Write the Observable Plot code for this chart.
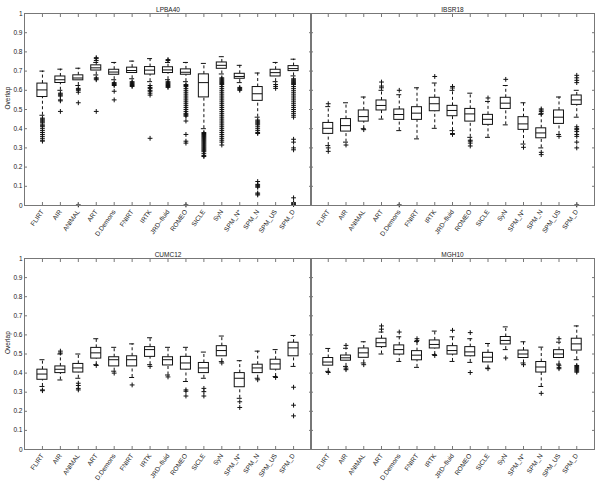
<!DOCTYPE html>
<html><head><meta charset="utf-8">
<script src="https://cdn.jsdelivr.net/npm/d3@7"></script>
<script src="https://cdn.jsdelivr.net/npm/@observablehq/plot@0.6"></script>
<style>
body{margin:0;background:#fff;}
#wrap{position:relative;width:600px;height:487px;overflow:hidden;background:#fff;}
.panel{position:absolute;}
</style></head><body><div id="wrap"></div>
<script>
const methods = ["FLIRT","AIR","ANIMAL","ART","D.Demons","FNIRT","IRTK","JRD\u2013fluid","ROMEO","SICLE","SyN","SPM_N*","SPM_N","SPM_US","SPM_D"];
const yTicks = [0,0.1,0.2,0.3,0.4,0.5,0.6,0.7,0.8,0.9,1];

// LPBA40
const lpbaHi  = [0.70,0.71,0.715,0.745,0.745,0.752,0.765,0.745,0.745,0.74,0.775,0.73,0.69,0.745,0.762];
const lpbaQ3  = [0.635,0.672,0.678,0.73,0.707,0.718,0.721,0.72,0.709,0.683,0.745,0.686,0.617,0.707,0.726];
const lpbaMed = [0.602,0.655,0.664,0.717,0.695,0.703,0.705,0.706,0.694,0.64,0.73,0.672,0.582,0.692,0.713];
const lpbaQ1  = [0.565,0.638,0.652,0.703,0.681,0.69,0.682,0.69,0.681,0.563,0.712,0.66,0.545,0.672,0.70];
const lpbaLo  = [0.47,0.60,0.625,0.68,0.655,0.66,0.645,0.655,0.645,0.40,0.685,0.64,0.46,0.645,0.675];
const lpbaOut = [
  [0.455,0.45,0.445,0.44,0.435,0.43,0.42,0.415,0.41,0.40,0.39,0.38,0.37,0.36,0.35,0.34,0.335],
  [0.585,0.58,0.575,0.57,0.55,0.545,0.49],
  [0.61,0.605,0.60,0.59,0.535,0.003],
  [0.77,0.765,0.755,0.665,0.66,0.655,0.49],
  [0.64,0.635,0.63,0.625,0.595,0.55],
  [0.645,0.64,0.635,0.63,0.625,0.62],
  [0.625,0.615,0.61,0.60,0.595,0.585,0.575,0.35],
  [0.76,0.755,0.645,0.64,0.635,0.63,0.625,0.62,0.615],
  [0.63,0.625,0.62,0.61,0.60,0.59,0.58,0.57,0.56,0.55,0.54,0.53,0.52,0.51,0.50,0.49,0.48,0.475,0.47,0.465,0.44,0.37,0.335,0.325,0.003],
  [0.38,0.375,0.37,0.365,0.36,0.355,0.35,0.345,0.34,0.335,0.33,0.325,0.32,0.315,0.31,0.305,0.30,0.295,0.29,0.285,0.28,0.27,0.26,0.255],
  [0.665,0.66,0.655,0.65,0.645,0.64,0.635,0.63,0.62,0.61,0.60,0.59,0.58,0.57,0.56,0.55,0.54,0.53,0.52,0.51,0.50,0.49,0.48,0.47,0.46,0.45,0.44,0.43,0.42,0.41,0.40,0.39,0.38,0.37,0.36,0.35,0.34,0.33,0.315],
  [0.615,0.61,0.605,0.60],
  [0.445,0.44,0.435,0.43,0.425,0.42,0.41,0.40,0.39,0.38,0.375,0.125,0.11,0.105,0.10,0.095,0.065,0.06,0.055],
  [0.63,0.62,0.61],
  [0.66,0.655,0.65,0.645,0.64,0.635,0.63,0.62,0.61,0.60,0.59,0.58,0.57,0.56,0.55,0.54,0.53,0.52,0.51,0.50,0.49,0.48,0.47,0.46,0.345,0.33,0.30,0.29,0.04,0.015,0.01,0.005]
];

// IBSR18
const ibsrHi  = [0.515,0.535,0.565,0.60,0.577,0.613,0.638,0.60,0.585,0.542,0.625,0.535,0.475,0.565,0.60];
const ibsrQ3  = [0.43,0.45,0.495,0.547,0.50,0.512,0.561,0.519,0.503,0.472,0.561,0.46,0.402,0.495,0.573];
const ibsrMed = [0.402,0.416,0.463,0.521,0.474,0.481,0.53,0.495,0.477,0.449,0.533,0.425,0.378,0.46,0.55];
const ibsrQ1  = [0.373,0.385,0.437,0.495,0.446,0.446,0.491,0.465,0.437,0.42,0.503,0.394,0.35,0.425,0.524];
const ibsrLo  = [0.312,0.33,0.40,0.45,0.39,0.347,0.402,0.39,0.355,0.355,0.42,0.32,0.30,0.37,0.46];
const ibsrOut = [
  [0.53,0.30,0.282],
  [0.315],
  [0.395],
  [0.643,0.622,0.613],
  [0.60,0.003],
  [],
  [0.672],
  [0.62,0.612,0.375,0.37],
  [0.34,0.335,0.325,0.31],
  [0.56],
  [0.657],
  [0.303],
  [0.503,0.497,0.49,0.48,0.277,0.265],
  [0.36],
  [0.678,0.665,0.652,0.64,0.41,0.40,0.395,0.385,0.37,0.36,0.33,0.30,0.003]
];

// CUMC12
const cumcHi  = [0.47,0.50,0.50,0.58,0.535,0.553,0.585,0.535,0.535,0.51,0.594,0.465,0.515,0.523,0.597];
const cumcQ3  = [0.418,0.435,0.448,0.532,0.483,0.488,0.536,0.483,0.485,0.453,0.541,0.40,0.444,0.47,0.559];
const cumcMed = [0.395,0.42,0.427,0.506,0.47,0.47,0.523,0.47,0.453,0.427,0.518,0.373,0.427,0.448,0.532];
const cumcQ1  = [0.365,0.40,0.403,0.476,0.435,0.435,0.485,0.44,0.418,0.40,0.488,0.326,0.40,0.418,0.488];
const cumcLo  = [0.33,0.364,0.373,0.444,0.41,0.377,0.444,0.39,0.356,0.373,0.46,0.268,0.373,0.382,0.435];
const cumcOut = [
  [0.312,0.308],
  [0.515,0.505],
  [0.347,0.335,0.32,0.312],
  [0.44],
  [0.40],
  [0.338],
  [0.435],
  [0.38],
  [0.312,0.305,0.28],
  [0.32,0.303,0.28],
  [0.453],
  [0.25,0.22],
  [0.365],
  [0.377],
  [0.326,0.232,0.176]
];

// MGH10
const mghHi  = [0.529,0.53,0.564,0.615,0.59,0.565,0.62,0.59,0.58,0.555,0.642,0.564,0.536,0.562,0.647];
const mghQ3  = [0.479,0.492,0.529,0.58,0.545,0.515,0.571,0.541,0.536,0.506,0.589,0.518,0.458,0.52,0.58];
const mghMed = [0.458,0.48,0.506,0.559,0.523,0.494,0.55,0.518,0.511,0.483,0.571,0.50,0.432,0.50,0.553];
const mghQ1  = [0.439,0.465,0.48,0.536,0.497,0.467,0.529,0.497,0.488,0.456,0.55,0.479,0.403,0.479,0.518];
const mghLo  = [0.409,0.435,0.453,0.50,0.461,0.43,0.497,0.461,0.456,0.426,0.523,0.453,0.33,0.447,0.47];
const mghOut = [
  [0.403],
  [0.545,0.426,0.418],
  [0.444],
  [0.647,0.63],
  [0.615],
  [0.58,0.57],
  [0.492],
  [0.624],
  [0.612,0.403],
  [0.423],
  [0.479],
  [0.444],
  [0.294],
  [0.58,0.441,0.43,0.423],
  [0.44,0.435,0.43,0.425,0.42,0.415,0.41,0.405]
];

const cross = {draw(ctx, size) {
  const r = Math.sqrt(size / Math.PI);
  ctx.moveTo(-r, 0); ctx.lineTo(r, 0);
  ctx.moveTo(0, -r); ctx.lineTo(0, r);
}};

const FONT = "'Liberation Sans', Arial, sans-serif";
const idx = methods.map((m, k) => k + 1);
const fmtY = d => String(+d.toFixed(1));
const BW = 0.28, CW = 0.14;

function panel({title, hi, q3, med, q1, lo, out, left, top, width, height, mL, mR, mT, mB, showY}) {
  const stats = methods.map((m, k) => ({i: k + 1, hi: hi[k], q3: q3[k], med: med[k], q1: q1[k], lo: lo[k]}));
  const outs = out.flatMap((arr, k) => arr.map(v => ({i: k + 1, v})));
  const marks = [
    Plot.ruleX(stats, {x: "i", y1: "q3", y2: "hi", stroke: "#111", strokeDasharray: "3,2.5"}),
    Plot.ruleX(stats, {x: "i", y1: "lo", y2: "q1", stroke: "#111", strokeDasharray: "3,2.5"}),
    Plot.ruleY(stats, {y: "hi", x1: d => d.i - CW, x2: d => d.i + CW, stroke: "#111"}),
    Plot.ruleY(stats, {y: "lo", x1: d => d.i - CW, x2: d => d.i + CW, stroke: "#111"}),
    Plot.rect(stats, {x1: d => d.i - BW, x2: d => d.i + BW, y1: "q1", y2: "q3", fill: "white", stroke: "#111", strokeWidth: 1}),
    Plot.ruleY(stats, {y: "med", x1: d => d.i - BW, x2: d => d.i + BW, stroke: "#111"}),
    Plot.dot(outs, {x: "i", y: "v", symbol: cross, r: 2.4, stroke: "#111", fill: "none", strokeWidth: 1}),
    Plot.frame({stroke: "#777"}),
    Plot.axisY({anchor: "left", ticks: yTicks, tickSize: -3, tickPadding: 5, stroke: "#777", fill: "#222",
      tickFormat: showY ? fmtY : () => ""}),
    Plot.axisY({anchor: "right", ticks: yTicks, tickSize: -3, stroke: "#777", tickFormat: () => ""}),
    Plot.axisX({anchor: "top", ticks: idx, tickSize: -3, stroke: "#777", tickFormat: () => ""}),
    Plot.axisX({anchor: "bottom", ticks: idx, tickSize: -3, tickPadding: 8, tickRotate: -55, stroke: "#777", fill: "#222",
      tickFormat: i => methods[i - 1]}),
    Plot.text([title], {frameAnchor: "top", dy: -6, fill: "#222", fontSize: 6.5})
  ];
  if (showY) marks.push(Plot.text(["Overlap"], {frameAnchor: "left", dx: -17, rotate: -90, fill: "#222", fontSize: 6.5}));
  const svg = Plot.plot({
    width, height,
    marginLeft: mL, marginRight: mR, marginTop: mT, marginBottom: mB,
    x: {domain: [0, 16], label: null, axis: null},
    y: {domain: [0, 1], label: null, axis: null},
    style: {background: "transparent", fontSize: "6.5px", fontFamily: FONT, overflow: "visible"},
    marks
  });
  const div = document.createElement("div");
  div.className = "panel";
  div.style.left = left + "px";
  div.style.top = top + "px";
  div.appendChild(svg);
  document.getElementById("wrap").appendChild(div);
}

panel({title: "LPBA40", hi: lpbaHi, q3: lpbaQ3, med: lpbaMed, q1: lpbaQ1, lo: lpbaLo, out: lpbaOut,
  left: 0, top: 0, width: 312, height: 250, mL: 24, mR: 1, mT: 13, mB: 45, showY: true});
panel({title: "IBSR18", hi: ibsrHi, q3: ibsrQ3, med: ibsrMed, q1: ibsrQ1, lo: ibsrLo, out: ibsrOut,
  left: 305, top: 0, width: 295, height: 250, mL: 5, mR: 6, mT: 13, mB: 45, showY: false});
panel({title: "CUMC12", hi: cumcHi, q3: cumcQ3, med: cumcMed, q1: cumcQ1, lo: cumcLo, out: cumcOut,
  left: 0, top: 245, width: 312, height: 242, mL: 24, mR: 1, mT: 13, mB: 38, showY: true});
panel({title: "MGH10", hi: mghHi, q3: mghQ3, med: mghMed, q1: mghQ1, lo: mghLo, out: mghOut,
  left: 305, top: 245, width: 295, height: 242, mL: 5, mR: 6, mT: 13, mB: 38, showY: false});
</script></body></html>
